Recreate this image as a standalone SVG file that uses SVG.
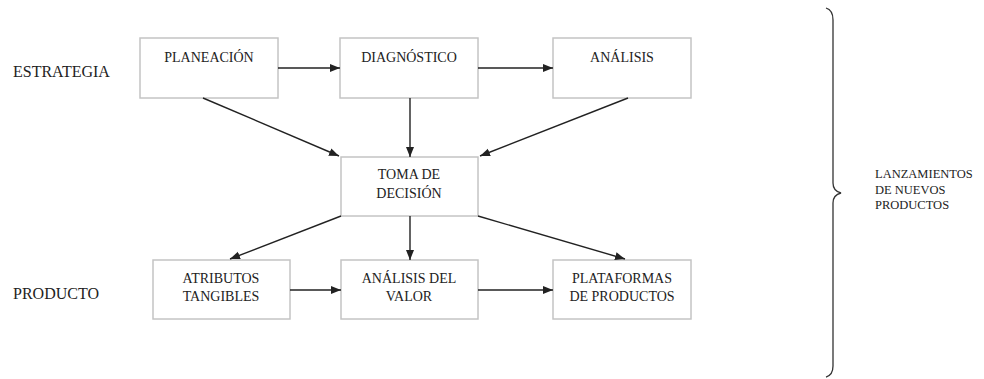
<svg xmlns="http://www.w3.org/2000/svg" width="984" height="379" viewBox="0 0 984 379">
<style>
text{font-family:'Liberation Serif','DejaVu Serif',serif;fill:#222}
.box{fill:#fff;stroke:#c4c4c4;stroke-width:1.5}
.t{font-size:14px;text-anchor:middle}
.lab{font-size:16px}
.side{font-size:12.5px}
.c{stroke:#222;stroke-width:1.4;fill:none;marker-end:url(#ah)}
</style>
<defs>
<marker id="ah" markerUnits="userSpaceOnUse" markerWidth="10" markerHeight="10" viewBox="0 0 10 10" refX="10" refY="5" orient="auto">
<path d="M0,1 L10,5 L0,9 Z" fill="#222"/>
</marker>
</defs>
<rect width="984" height="379" fill="#fff"/>
<g font-family="Liberation Serif, serif">
<text class="lab" x="13" y="77">ESTRATEGIA</text>
<text class="lab" x="13" y="299">PRODUCTO</text>
<g id="planeacion"><rect class="box" x="140" y="38" width="138" height="60"/><text class="t" x="209" y="62">PLANEACIÓN</text></g>
<g id="diagnostico"><rect class="box" x="340" y="38" width="138" height="60"/><text class="t" x="409" y="62">DIAGNÓSTICO</text></g>
<g id="analisis"><rect class="box" x="553" y="38" width="138" height="60"/><text class="t" x="622" y="62">ANÁLISIS</text></g>
<g id="toma"><rect class="box" x="341" y="157" width="137" height="59"/><text class="t" x="409" y="179">TOMA DE</text><text class="t" x="409" y="198">DECISIÓN</text></g>
<g id="atributos"><rect class="box" x="153" y="260" width="137" height="59"/><text class="t" x="221" y="283">ATRIBUTOS</text><text class="t" x="221" y="301">TANGIBLES</text></g>
<g id="valor"><rect class="box" x="341" y="260" width="137" height="59"/><text class="t" x="409" y="283">ANÁLISIS DEL</text><text class="t" x="409" y="301">VALOR</text></g>
<g id="plataformas"><rect class="box" x="553" y="260" width="138" height="59"/><text class="t" x="622" y="283">PLATAFORMAS</text><text class="t" x="622" y="301">DE PRODUCTOS</text></g>
</g>
<g id="connectors">
<line class="c" x1="278" y1="68" x2="340" y2="68"/>
<line class="c" x1="478" y1="68" x2="553" y2="68"/>
<line class="c" x1="203" y1="98" x2="339" y2="156"/>
<line class="c" x1="410" y1="98" x2="410" y2="157"/>
<line class="c" x1="628" y1="98" x2="480" y2="156"/>
<line class="c" x1="341" y1="216" x2="230" y2="259"/>
<line class="c" x1="410" y1="216" x2="410" y2="260"/>
<line class="c" x1="478" y1="216" x2="625" y2="259"/>
<line class="c" x1="290" y1="290" x2="341" y2="290"/>
<line class="c" x1="478" y1="290" x2="553" y2="290"/>
</g>
<g id="brace">
<path d="M826 8 Q833 10 833 20 L833 183 Q833 191 841 193 Q833 195 833 203 L833 366 Q833 375 826 377" fill="none" stroke="#333" stroke-width="1.3"/>
</g>
<g id="lanzamientos">
<text class="side" x="875" y="178">LANZAMIENTOS</text>
<text class="side" x="875" y="194">DE NUEVOS</text>
<text class="side" x="875" y="209">PRODUCTOS</text>
</g>
</svg>
